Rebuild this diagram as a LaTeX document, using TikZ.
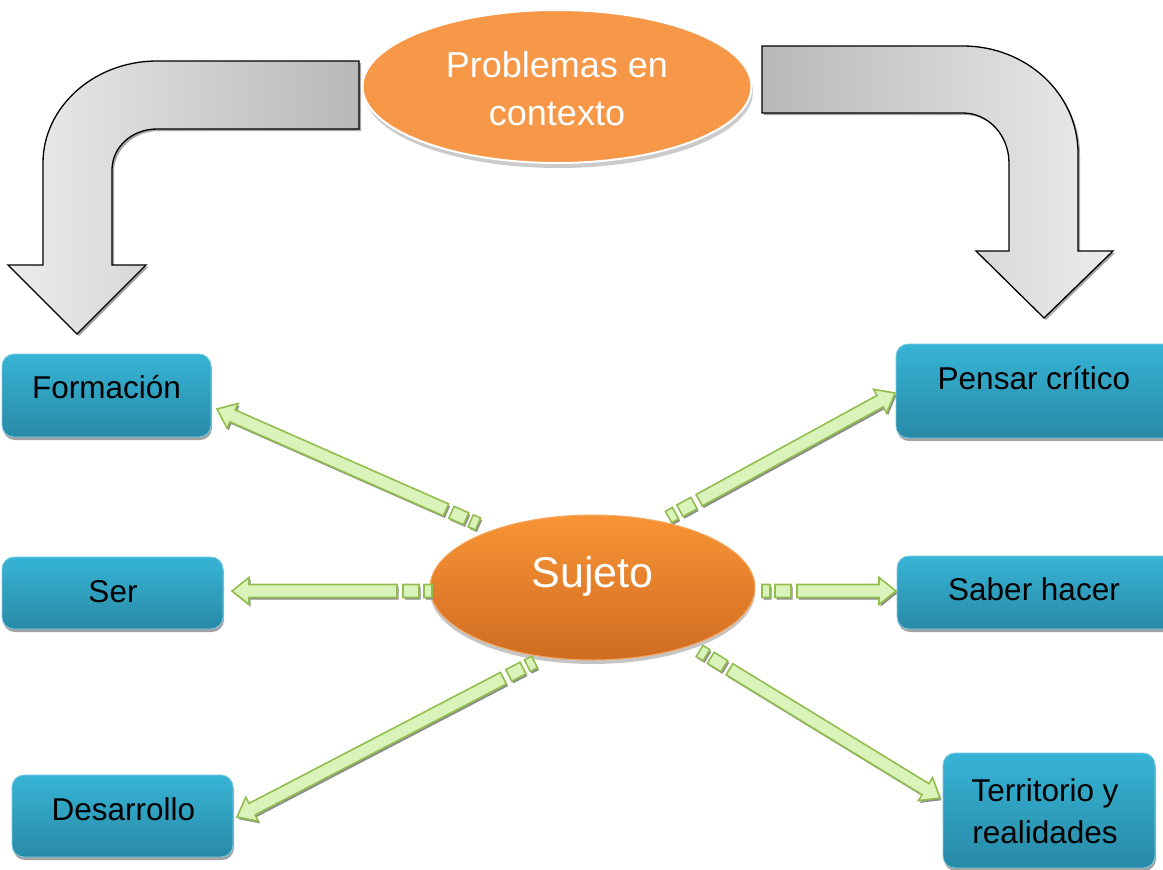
\documentclass[tikz,border=0pt]{standalone}
\usepackage{fontspec}
\setmainfont{Liberation Sans}
\usetikzlibrary{calc,shapes.geometric,shadows}

\definecolor{boxtop}{RGB}{55,180,214}
\definecolor{boxbot}{RGB}{40,138,166}
\definecolor{boxedge}{RGB}{125,202,226}
\definecolor{orTop}{RGB}{248,148,52}
\definecolor{orBot}{RGB}{208,108,34}
\definecolor{orEdge}{RGB}{246,168,98}
\definecolor{orFlat}{RGB}{247,152,72}
\definecolor{gfill}{RGB}{218,243,186}
\definecolor{gedge}{RGB}{146,190,78}
\definecolor{arLight}{RGB}{236,236,236}
\definecolor{arDark}{RGB}{184,184,184}

\tikzset{
  box/.style={rectangle, rounded corners=12pt, top color=boxtop, bottom color=boxbot,
    draw=boxedge, line width=0.8pt, inner sep=0pt,
    drop shadow={shadow xshift=1pt, shadow yshift=-3pt, fill=black!45, opacity=0.8}},
  boxtext/.style={font=\fontsize{31.5}{42}\selectfont, text=black, inner sep=0pt},
  garrowstyle/.style={fill=gfill, draw=gedge, line width=1.6pt, line join=miter},
  gshadow/.style={fill=black!45, transform canvas={shift={(1.5pt,-2.2pt)}}},
  bigarrow/.style={draw=black, line width=1.3pt, line join=miter},
  bigshadow/.style={fill=black!35, transform canvas={shift={(2pt,-2pt)}}}
}

\newcommand{\gpath}[2]{%
 ($(#1)!35pt!(#2)!6.5pt!90:(#2)$) -- ($(#2)!17pt!(#1)!6.5pt!-90:(#1)$) -- ($(#2)!17pt!(#1)!13.5pt!-90:(#1)$) -- (#2) -- ($(#2)!17pt!(#1)!13.5pt!90:(#1)$) -- ($(#2)!17pt!(#1)!6.5pt!90:(#1)$) -- ($(#1)!35pt!(#2)!6.5pt!-90:(#2)$) -- cycle
 ($(#1)!13pt!(#2)!6.5pt!90:(#2)$) -- ($(#1)!29pt!(#2)!6.5pt!90:(#2)$) -- ($(#1)!29pt!(#2)!6.5pt!-90:(#2)$) -- ($(#1)!13pt!(#2)!6.5pt!-90:(#2)$) -- cycle
 ($(#1)!0pt!(#2)!6.5pt!90:(#2)$) -- ($(#1)!8pt!(#2)!6.5pt!90:(#2)$) -- ($(#1)!8pt!(#2)!6.5pt!-90:(#2)$) -- ($(#1)!0pt!(#2)!6.5pt!-90:(#2)$) -- cycle}

\newcommand{\greenarrow}[2]{%
  \fill[gshadow] \gpath{#1}{#2};
  \draw[garrowstyle] \gpath{#1}{#2};}

\def\leftbig{(359,61) -- (157,61) .. controls (94,61) and (43,107) .. (43,163) -- (43,265) -- (8,265) -- (77,334) -- (146,265) -- (112,265) -- (112,170) .. controls (112,147) and (132,129) .. (157,129) -- (359,129) -- cycle}
\def\rightbig{(762,46) -- (963,46) .. controls (1026.5,46) and (1078,94) .. (1078,153) -- (1078,251) -- (1113,251) -- (1044,318) -- (976,251) -- (1009,251) -- (1009,163) .. controls (1009,135.4) and (988.4,113) .. (963,113) -- (762,113) -- cycle}

\begin{document}
\begin{tikzpicture}[x=1pt,y=-1pt]
\fill[white] (0,0) rectangle (1163,870);
\useasboundingbox (0,0) rectangle (1163,870);

% big curved arrows
\fill[bigshadow] \leftbig;
\draw[bigarrow, left color=arLight, right color=arDark] \leftbig;
\fill[bigshadow] \rightbig;
\draw[bigarrow, left color=arDark, right color=arLight] \rightbig;

% top ellipse
\node[ellipse, fill=orFlat, draw=white, line width=2pt, minimum width=389pt, minimum height=153pt, inner sep=0pt,
  drop shadow={shadow xshift=1.5pt, shadow yshift=-5pt, fill=black!40}] (problemas) at (557,86.5) {};
\node[font=\fontsize{36}{48}\selectfont, text=white, align=center, inner sep=0pt] (problemastext) at (557,89) {Problemas en\\contexto};

% boxes
\node[box, minimum width=209pt, minimum height=83pt] (formacion) at (106.5,395.5) {};
\node[box, minimum width=221pt, minimum height=72pt] (ser) at (112.5,593) {};
\node[box, minimum width=221pt, minimum height=82pt] (desarrollo) at (122.5,816) {};
\node[box, minimum width=284pt, minimum height=94pt] (pensar) at (1038,391) {};
\node[box, minimum width=283pt, minimum height=73pt] (saber) at (1038.5,592.5) {};
\node[box, minimum width=212pt, minimum height=115pt] (territorio) at (1049,810.5) {};

\node[boxtext, anchor=base] (formaciontext) at (106.5,398) {Formación};
\node[boxtext, anchor=base] (sertext) at (113,602) {Ser};
\node[boxtext, anchor=base] (desarrollotext) at (123.5,820) {Desarrollo};
\node[boxtext, anchor=base] (pensartext) at (1034,389) {Pensar crítico};
\node[boxtext, anchor=base] (sabertext) at (1034,600) {Saber hacer};
\node[boxtext, align=center] (territoriotext) at (1045,811) {Territorio y\\realidades};

% central ellipse
\node[ellipse, top color=orTop, bottom color=orBot, draw=orEdge, line width=1pt, minimum width=325pt, minimum height=145pt, inner sep=0pt,
  drop shadow={shadow xshift=0pt, shadow yshift=-4pt, fill=black!45}] (sujeto) at (592.5,587.5) {};
\node[font=\fontsize{43}{50}\selectfont, text=white, anchor=base, inner sep=0pt] (sujetotext) at (592.5,587) {Sujeto};

% green arrow end points
\coordinate (tF) at (478,524);   \coordinate (hF) at (217,409);
\coordinate (tP) at (668.5,517); \coordinate (hP) at (895,393);
\coordinate (tS) at (432,591);   \coordinate (hS) at (232,591);
\coordinate (tH) at (762,591);   \coordinate (hH) at (896,591);
\coordinate (tD) at (534.5,662); \coordinate (hD) at (237,817);
\coordinate (tT) at (699.6,651); \coordinate (hT) at (940,798);

\greenarrow{tF}{hF}
\greenarrow{tP}{hP}
\greenarrow{tS}{hS}
\greenarrow{tH}{hH}
\greenarrow{tD}{hD}
\greenarrow{tT}{hT}
\end{tikzpicture}
\end{document}
